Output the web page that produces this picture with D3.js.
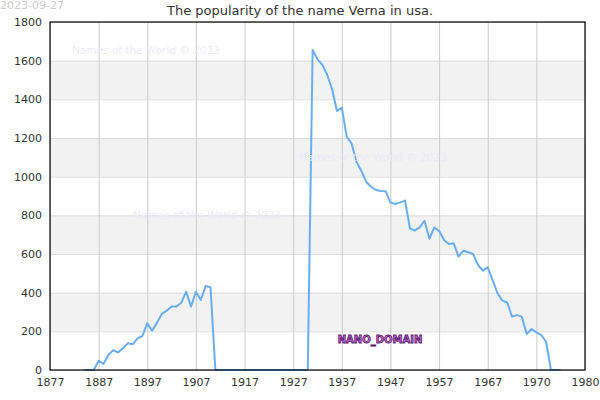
<!DOCTYPE html>
<html>
<head>
<meta charset="utf-8">
<script src="https://cdn.jsdelivr.net/npm/d3@7"></script>
<style>
  body { margin: 0; background: #fff; }
  svg { font-family: "DejaVu Sans", sans-serif; }
</style>
</head>
<body>
<div id="chart"></div>
<script>
const title = "The popularity of the name Verna in usa.";
const stamp = "2023-09-27";
const firstYear = 1884;
const counts = [
  0, 0, 0, 48, 31, 78, 103, 90, 112, 138, 133, 164, 176, 241, 203, 245, 290,
  307, 328, 328, 348, 405, 328, 405, 362, 434, 428,
  0, 0, 0, 0, 0, 0, 0, 0, 0, 0, 0, 0, 0, 0, 0, 0, 0, 0, 0, 0,
  1655, 1607, 1578, 1526, 1452, 1340, 1357, 1207, 1172, 1077, 1031, 974, 948,
  931, 926, 925, 866, 859, 867, 876, 733, 721, 738, 772, 679, 736, 720, 672,
  652, 655, 586, 617, 609, 600, 543, 514, 531, 466, 397, 359, 350, 276, 284,
  276, 186, 212, 195, 181, 146, 0, 0, 0
];
const xTicks = [1877, 1887, 1897, 1907, 1917, 1927, 1937, 1947, 1957, 1967, 1977, 1987];
const xTickLabels = ["1877", "1887", "1897", "1907", "1917", "1927", "1937", "1947", "1957", "1967", "1970", "1980"];
const yTicks = [0, 200, 400, 600, 800, 1000, 1200, 1400, 1600, 1800];
const watermarks = [[146, 54], [373, 161], [207, 219]];

const width = 600, height = 400;
const margin = { top: 22, right: 15, bottom: 30, left: 50 };
const w = width - margin.left - margin.right;
const h = height - margin.top - margin.bottom;

const data = counts.map((v, i) => ({ year: firstYear + i, value: v }));

const x = d3.scaleLinear().domain([1877, 1987]).range([0, w]);
const y = d3.scaleLinear().domain([0, 1800]).range([h, 0]);

const svg = d3.select("#chart").append("svg")
  .attr("width", width)
  .attr("height", height);

svg.append("text")
  .attr("x", 0).attr("y", 9)
  .attr("font-size", 11).attr("fill", "#ccc")
  .text(stamp);

svg.append("text")
  .attr("x", width / 2).attr("y", 15)
  .attr("text-anchor", "middle")
  .attr("font-size", 13).attr("fill", "#333")
  .text(title);

const g = svg.append("g").attr("transform", `translate(${margin.left}, ${margin.top})`);

// alternating bands
g.append("g").selectAll("rect")
  .data(yTicks.slice(0, -1).filter((d, i) => i % 2 === 1))
  .enter().append("rect")
  .attr("x", 0).attr("width", w)
  .attr("y", d => y(d + 200)).attr("height", d => y(d) - y(d + 200))
  .attr("fill", "#f2f2f2");

// horizontal grid
g.append("g")
  .call(d3.axisLeft(y).tickValues(yTicks).tickFormat("").tickSize(-w))
  .call(s => s.select(".domain").remove())
  .call(s => s.selectAll("line").attr("stroke", "#ddd"));

// vertical grid
g.append("g")
  .attr("transform", `translate(0, ${h})`)
  .call(d3.axisBottom(x).tickValues(xTicks).tickFormat("").tickSize(-h))
  .call(s => s.select(".domain").remove())
  .call(s => s.selectAll("line").attr("stroke", "#ccc"));

// watermarks
svg.append("g").selectAll("text")
  .data(watermarks)
  .enter().append("text")
  .attr("x", d => d[0]).attr("y", d => d[1])
  .attr("text-anchor", "middle")
  .attr("font-size", 10.5).attr("fill", "#ebebf7")
  .text("Names of the World © 2023");

const line = d3.line().x(d => x(d.year)).y(d => y(d.value));
g.append("path")
  .datum(data)
  .attr("fill", "none")
  .attr("stroke", "#6aaef2")
  .attr("stroke-width", 2)
  .attr("stroke-linejoin", "round")
  .attr("d", line);

// frame
g.append("rect")
  .attr("width", w).attr("height", h)
  .attr("fill", "none").attr("stroke", "#000").attr("stroke-width", 1.2);

// axis labels
g.append("g")
  .call(d3.axisLeft(y).tickValues(yTicks).tickSize(0).tickPadding(8).tickFormat(d3.format("d")))
  .call(s => s.select(".domain").remove())
  .call(s => s.selectAll("text").attr("font-size", 11).attr("fill", "#333")
    .attr("font-family", "DejaVu Sans, sans-serif"));

g.append("g")
  .attr("transform", `translate(0, ${h})`)
  .call(d3.axisBottom(x).tickValues(xTicks).tickSize(0).tickPadding(8)
    .tickFormat((d, i) => xTickLabels[i]))
  .call(s => s.select(".domain").remove())
  .call(s => s.selectAll("text").attr("font-size", 11).attr("fill", "#333")
    .attr("font-family", "DejaVu Sans, sans-serif"));

svg.append("text")
  .attr("x", 380).attr("y", 343)
  .attr("text-anchor", "middle")
  .attr("font-size", 10).attr("font-weight", "bold")
  .attr("fill", "#c070d8").attr("stroke", "#5a1466").attr("stroke-width", 0.8)
  .text("NANO_DOMAIN");
</script>
</body>
</html>
